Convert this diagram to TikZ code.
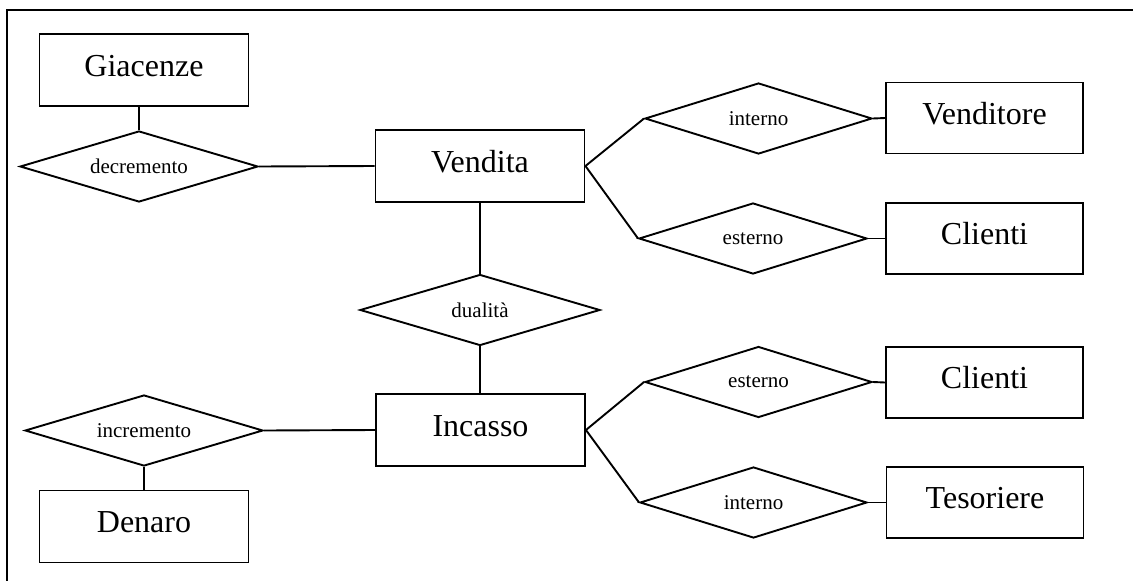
\documentclass[tikz,border=0pt]{standalone}
\usepackage{fontspec}
\setmainfont{Liberation Serif}
\usetikzlibrary{shapes.geometric}
\begin{document}
\begin{tikzpicture}[x=1pt,y=-1pt,line width=1.9pt,
  entity/.style={draw, rectangle, inner sep=0pt, font=\fontsize{32}{32}\selectfont,
    text height=22pt, text depth=10pt},
  bigent/.style={entity, minimum width=209pt, minimum height=72pt},
  smallent/.style={entity, minimum width=197pt, minimum height=71pt},
  relation/.style={draw, diamond, aspect=3.35, inner sep=0pt,
    font=\fontsize{21}{21}\selectfont, minimum height=71pt}]
\useasboundingbox (0,0) rectangle (1133,581);

% open frame (top and left edges)
\coordinate (fr1) at (1133,10);
\coordinate (fr2) at (7,10);
\coordinate (fr3) at (7,581);
\draw (fr1) -- (fr2) -- (fr3);

% entities
\node[bigent] (giac) at (144,70) {Giacenze};
\node[bigent] (vend) at (480,166) {Vendita};
\node[bigent] (inca) at (480.5,430) {Incasso};
\node[bigent] (dena) at (144,526.5) {Denaro};
\node[smallent] (vtor) at (984.5,118) {Venditore};
\node[smallent] (cli1) at (984.5,238.5) {Clienti};
\node[smallent] (cli2) at (984.5,382.5) {Clienti};
\node[smallent] (teso) at (985,502.5) {Tesoriere};

% relationships
\node[relation, minimum width=238pt] (decr) at (139,166.5) {decremento};
\node[relation, minimum width=238pt] (incr) at (144,430.5) {incremento};
\node[relation, minimum width=240pt] (dual) at (480,310) {dualità};
\node[relation, minimum width=227pt] (int1) at (758.5,118.5) {interno};
\node[relation, minimum width=228pt] (est1) at (753,238.5) {esterno};
\node[relation, minimum width=227pt] (est2) at (758.5,382) {esterno};
\node[relation, minimum width=227pt] (int2) at (753.5,502.5) {interno};

% connectors
\draw (decr.north) -- (decr.north |- giac.south);
\draw (decr.east) -- (vend.west);
\draw (dual.north) -- (dual.north |- vend.south);
\draw (dual.south) -- (dual.south |- inca.north);
\draw (incr.east) -- (inca.west);
\draw (incr.south) -- (incr.south |- dena.north);
\draw (vend.east) -- (int1.west);
\draw (vend.east) -- (est1.west);
\draw (int1.east) -- (vtor.west);
\draw (est1.east) -- (cli1.west);
\draw (inca.east) -- (est2.west);
\draw (inca.east) -- (int2.west);
\draw (est2.east) -- (cli2.west);
\draw (int2.east) -- (teso.west);
\end{tikzpicture}
\end{document}
